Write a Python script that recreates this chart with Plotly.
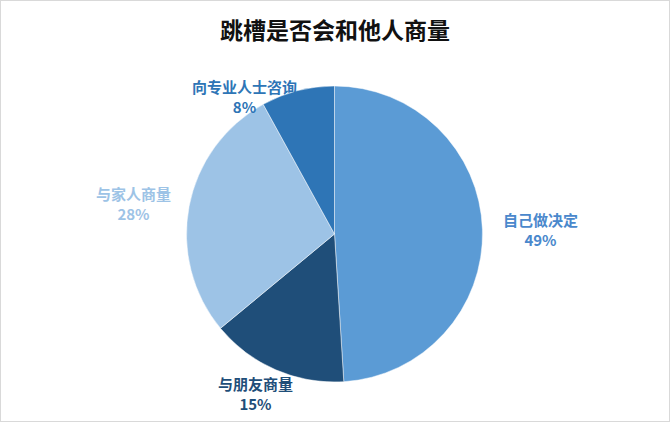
import plotly.graph_objects as go

_W, _H = 670, 422

# Dados do gráfico
labels = ["自己做决定", "与朋友商量", "与家人商量", "向专业人士咨询"]
values = [49, 15, 28, 8]
title = "跳槽是否会和他人商量"

slice_colors = ["#5B9BD5", "#1F4E79", "#9DC3E6", "#2E75B6"]
label_colors = ["#4A88CC", "#1F4E79", "#9DC3E6", "#2E75B6"]
# centro de cada rótulo em pixels (x, y a partir do topo)
label_pos = [(540, 229), (255, 393), (133, 203), (244, 96)]

FONT = "Noto Sans CJK SC"

# domínio da pizza em pixels
cx, cy, r = 334.5, 234, 148

fig = go.Figure()
fig.add_trace(go.Pie(
    labels=labels,
    values=values,
    sort=False,
    direction="clockwise",
    rotation=0,
    marker=dict(colors=slice_colors, line=dict(color="rgba(255,255,255,0.6)", width=0.8)),
    textinfo="none",
    hoverinfo="label+percent",
    showlegend=False,
    domain=dict(
        x=[(cx - r) / _W, (cx + r) / _W],
        y=[(_H - cy - r) / _H, (_H - cy + r) / _H],
    ),
))

total = sum(values)
for lab, val, col, (px_, py_) in zip(labels, values, label_colors, label_pos):
    fig.add_annotation(
        x=px_ / _W, y=1 - py_ / _H, xref="paper", yref="paper",
        xanchor="center", yanchor="middle", showarrow=False,
        text=f"<b>{lab}</b><br><b>{round(val / total * 100)}%</b>",
        font=dict(family=FONT, size=15, color=col),
        align="center",
    )

fig.update_layout(
    width=_W, height=_H,
    margin=dict(l=0, r=0, t=0, b=0),
    paper_bgcolor="white",
    plot_bgcolor="white",
    title=dict(
        text=f"<b>{title}</b>",
        x=0.5, xanchor="center",
        y=1 - 31 / _H, yanchor="middle",
        font=dict(family=FONT, size=23, color="#111111"),
    ),
    shapes=[dict(
        type="rect", xref="paper", yref="paper",
        x0=0, y0=0, x1=1, y1=1,
        line=dict(color="#D9D9D9", width=2),
    )],
)

# tira a margem padrão do body para a figura ocupar a janela toda
fig.write_html(
    "out.html",
    config={"displayModeBar": False},
    post_script="document.body.style.margin='0';document.body.style.overflow='hidden';",
)
